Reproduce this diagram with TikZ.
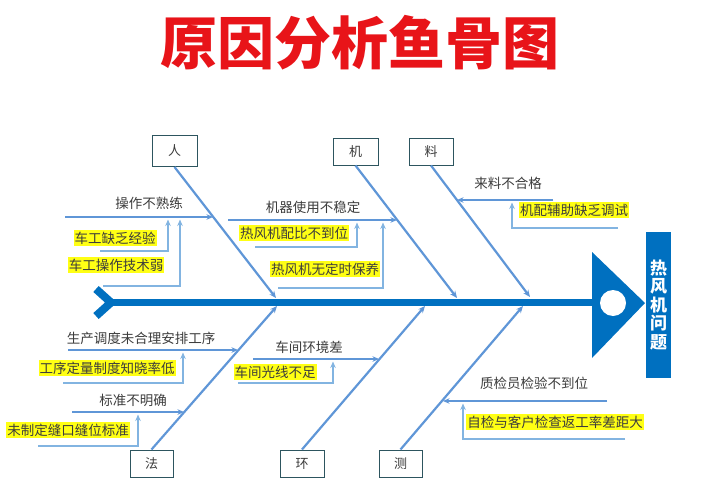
\documentclass[tikz,border=0pt]{standalone}
\usepackage{fontspec}
\newfontfamily\cjk{Noto Sans CJK SC}
\usetikzlibrary{arrows.meta}
\definecolor{spineblue}{RGB}{0,112,192}
\definecolor{boneblue}{RGB}{95,150,215}
\definecolor{subblue}{RGB}{130,180,225}
\definecolor{boxline}{RGB}{45,85,95}
\definecolor{txtgray}{RGB}{60,60,60}
\definecolor{titlered}{RGB}{232,20,25}
\definecolor{hlyellow}{RGB}{255,255,20}
\tikzset{
  catbox/.style={draw=boxline,line width=1pt,fill=white,font=\cjk\fontsize{13}{15}\selectfont,text=txtgray,inner sep=0pt},
  bone/.style={draw=boneblue,line width=2.2pt,-{Stealth[length=7pt,width=6pt]}},
  subarrow/.style={draw=boneblue,line width=1.6pt,-{Stealth[length=6.5pt,width=5.5pt]}},
  subsub/.style={draw=subblue,line width=1.6pt,-{Stealth[length=6.5pt,width=5.5pt]}},
  lbl/.style={font=\cjk\fontsize{13.5}{15}\selectfont,text=txtgray,inner sep=0pt},
  hl/.style={font=\cjk\fontsize{13.5}{15}\selectfont,text=txtgray,fill=hlyellow,inner xsep=1pt,inner ysep=1.5pt},
}
\begin{document}
\begin{tikzpicture}[x=1pt,y=-1pt]
\useasboundingbox (0,0) rectangle (711,500);
% title
\node[font=\cjk\bfseries\fontsize{57}{60}\selectfont,text=titlered,inner sep=0pt] (title) at (360,43) {原因分析鱼骨图};
% spine, tail, head
\coordinate (tailjoint) at (111,302.5);
\coordinate (headbase) at (593,302.5);
\draw[spineblue,line width=7pt] (tailjoint) -- (headbase);
\draw[spineblue,line width=8pt,line join=miter] (96,289) -- (tailjoint) -- (96,316);
\fill[spineblue] (592,252) -- (645,303) -- (592,358) -- cycle;
\fill[white] (613,303) circle (13);
\node[fill=spineblue,minimum width=25pt,minimum height=146pt,inner sep=0pt,text=white,align=center,
  font=\cjk\bfseries\fontsize{17}{18.5}\selectfont] (head) at (658.5,305) {热\\风\\机\\问\\题};
% category boxes
\node[catbox,minimum width=45pt,minimum height=31pt] (ren) at (174.5,151) {人};
\node[catbox,minimum width=45pt,minimum height=27pt] (ji) at (355.5,151.5) {机};
\node[catbox,minimum width=44pt,minimum height=27pt] (liao) at (431,151.5) {料};
\node[catbox,minimum width=43pt,minimum height=27pt] (fa) at (151.5,463.5) {法};
\node[catbox,minimum width=44pt,minimum height=27pt] (huan) at (302,463.5) {环};
\node[catbox,minimum width=43pt,minimum height=27pt] (ce) at (400.5,463.5) {测};
% bone ends on spine
\coordinate (bRen) at (276,298);
\coordinate (bJi) at (457,298);
\coordinate (bLiao) at (530,297);
\coordinate (bFa) at (277,306);
\coordinate (bHuan) at (425,306);
\coordinate (bCe) at (523,306);
\draw[bone] (ren.south) -- (bRen);
\draw[bone] (ji.south) -- (bJi);
\draw[bone] (liao.south) -- (bLiao);
\draw[bone] (fa.north) -- (bFa);
\draw[bone] (huan.north) -- (bHuan);
\draw[bone] (ce.north) -- (bCe);
% ---- 人
\node[lbl] (r1) at (149,203) {操作不熟练};
\coordinate (r1a) at (65,217); \coordinate (r1b) at (213,217);
\draw[subarrow] (r1a) -- (r1b);
\node[hl] (r2) at (115,238) {车工缺乏经验};
\coordinate (r2a) at (100,251); \coordinate (r2b) at (168,219.5);
\draw[subsub] (r2a) -| (r2b);
\node[hl] (r3) at (116,265) {车工操作技术弱};
\coordinate (r3a) at (103,286); \coordinate (r3b) at (180,219.5);
\draw[subsub] (r3a) -| (r3b);
% ---- 机
\node[lbl] (j1) at (313,207) {机器使用不稳定};
\coordinate (j1a) at (228,220); \coordinate (j1b) at (397,220);
\draw[subarrow] (j1a) -- (j1b);
\node[hl] (j2) at (294,233) {热风机配比不到位};
\coordinate (j2a) at (255,247); \coordinate (j2b) at (357,222.5);
\draw[subsub] (j2a) -| (j2b);
\node[hl] (j3) at (325,269) {热风机无定时保养};
\coordinate (j3a) at (278,288); \coordinate (j3b) at (383,222.5);
\draw[subsub] (j3a) -| (j3b);
% ---- 料
\node[lbl] (l1) at (508,183) {来料不合格};
\coordinate (l1a) at (553,200); \coordinate (l1b) at (457,200);
\draw[subarrow] (l1a) -- (l1b);
\node[hl] (l2) at (574,210) {机配辅助缺乏调试};
\coordinate (l2a) at (618,228); \coordinate (l2b) at (512,202.5);
\draw[subsub] (l2a) -| (l2b);
% ---- 法
\node[lbl] (f1) at (141,338) {生产调度未合理安排工序};
\coordinate (f1a) at (68,350); \coordinate (f1b) at (238,350);
\draw[subarrow] (f1a) -- (f1b);
\node[hl] (f2) at (107,368) {工序定量制度知晓率低};
\coordinate (f2a) at (63,383); \coordinate (f2b) at (183,352.5);
\draw[subsub] (f2a) -| (f2b);
\node[lbl] (f3) at (133,400) {标准不明确};
\coordinate (f3a) at (72,412); \coordinate (f3b) at (184,412);
\draw[subarrow] (f3a) -- (f3b);
\node[hl] (f4) at (68,430) {未制定缝口缝位标准};
\coordinate (f4a) at (38,446); \coordinate (f4b) at (138,414.5);
\draw[subsub] (f4a) -| (f4b);
% ---- 环
\node[lbl] (h1) at (309,347) {车间环境差};
\coordinate (h1a) at (253,359); \coordinate (h1b) at (379,359);
\draw[subarrow] (h1a) -- (h1b);
\node[hl] (h2) at (275,372) {车间光线不足};
\coordinate (h2a) at (238,383); \coordinate (h2b) at (333,361.5);
\draw[subsub] (h2a) -| (h2b);
% ---- 测
\node[lbl] (c1) at (534,383) {质检员检验不到位};
\coordinate (c1a) at (607,401); \coordinate (c1b) at (443,401);
\draw[subarrow] (c1a) -- (c1b);
\node[hl] (c2) at (555,422) {自检与客户检查返工率差距大};
\coordinate (c2a) at (625,439); \coordinate (c2b) at (463,403.5);
\draw[subsub] (c2a) -| (c2b);
\end{tikzpicture}
\end{document}
